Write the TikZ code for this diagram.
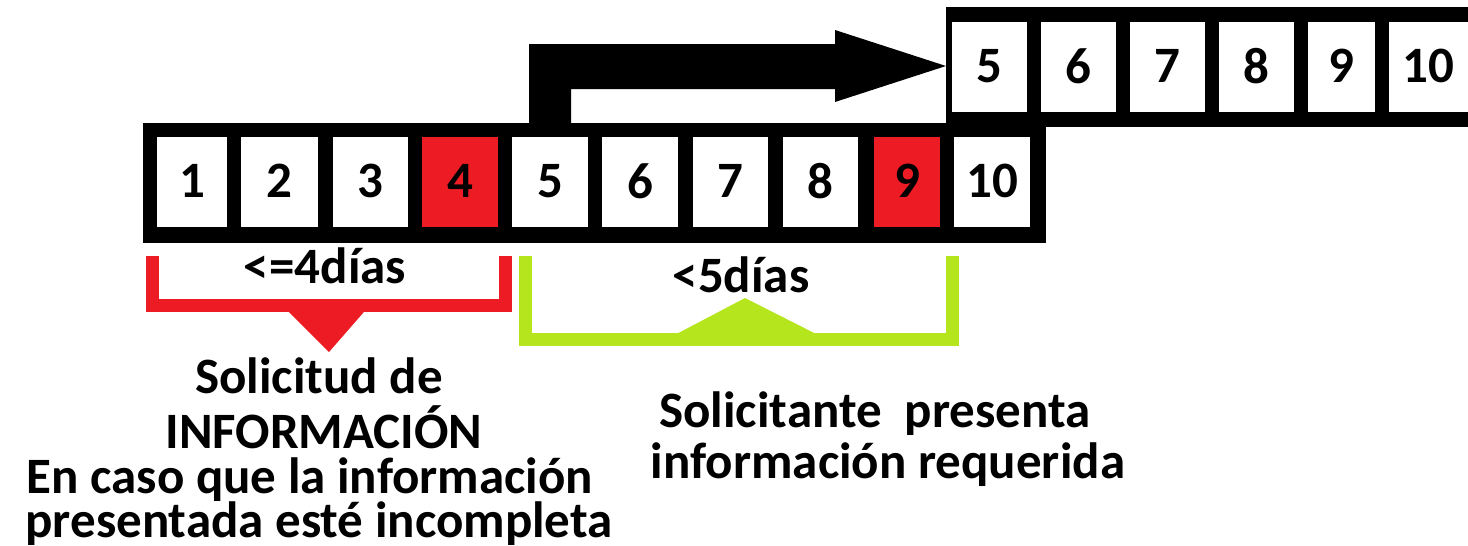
\documentclass[tikz,border=0pt]{standalone}
\usepackage{fontspec}
\setmainfont{Carlito}
\definecolor{pintarojo}{HTML}{ED1C24}
\definecolor{pintaverde}{HTML}{B5E61D}

\begin{document}
\begin{tikzpicture}[x=1pt, y=-1pt,
    celda/.style={fill=white, inner sep=0pt, minimum height=90pt, font=\fontsize{51}{51}\selectfont\bfseries},
    texto/.style={anchor=base, inner sep=0pt, font=\fontsize{51}{51}\selectfont\bfseries}]
    \useasboundingbox (0,0) rectangle (1468,546);

    % Tira de abajo
    \draw[fill=black] (143,123) rectangle (1045,242);
    \foreach \a/\b/\n/\c in {157/227/1/white, 241/318/2/white, 333/408/3/white, 422/498/4/pintarojo, 512/588/5/white,
                             602/678/6/white, 693/768/7/white, 783/858/8/white, 874/940/9/pintarojo, 954/1030/10/white}
        \node[celda, fill=\c, minimum width=\b-\a] (b\n) at ({(\a+\b)/2}, 182) {\raisebox{2pt}{\n}};

    % Tira de arriba
    \draw[fill=black] (946,7) rectangle (1468,126);
    \foreach \a/\b/\n in {952/1027/5, 1041/1116/6, 1130/1205/7, 1219/1294/8, 1308/1375/9, 1389/1468/10}
        \node[celda, minimum width=\b-\a] (t\n) at ({(\a+\b)/2}, 67) {\raisebox{2pt}{\n}};

    % Flecha
    \fill[black] (529,123) -- (529,44) -- (835,44) -- (835,30) -- (946,66)
        -- (835,102) -- (835,89) -- (571,89) -- (571,123) -- cycle;

    % Llave roja
    \draw[pintarojo, line width=13pt] (152,256) -- (152,305) -- (505,305) -- (505,256);
    \fill[pintarojo] (282,305) -- (370,305) -- (329,352) -- cycle;
    \node[texto] (plazo1) at (325,283) {<=4días};

    % Llave verde
    \draw[pintaverde, line width=13pt] (525,256) -- (525,339) -- (952,339) -- (952,256);
    \fill[pintaverde] (667,339) -- (826,339) -- (745,298) -- cycle;
    \node[texto] (plazo2) at (741,292) {<5días};

    % Textos
    \node[texto] (sol1) at (319,393) {Solicitud de};
    \node[texto] (sol2) at (324,448) {INFORMACIÓN};
    \node[texto] (sol3) at (310,493) {En caso que la información};
    \node[texto] (sol4) at (319,537) {presentada esté incompleta};

    \node[texto] (pre1) at (875,427) {Solicitante\ \ presenta};
    \node[texto] (pre2) at (888,478) {información requerida};
\end{tikzpicture}
\end{document}
